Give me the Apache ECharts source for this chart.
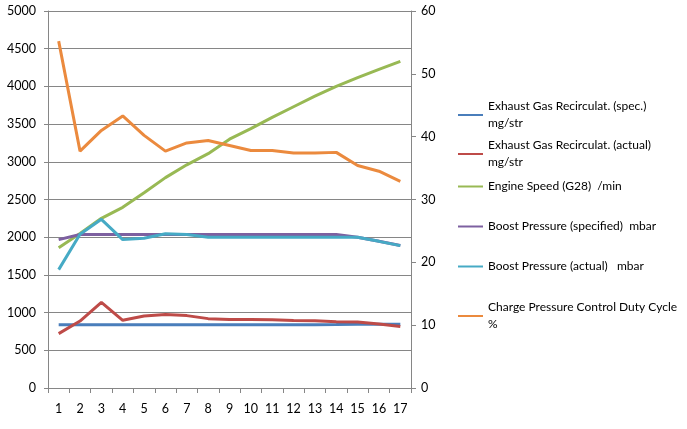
<!DOCTYPE html>
<html><head><meta charset="utf-8">
<script src="https://cdn.jsdelivr.net/npm/echarts@6/dist/echarts.min.js"></script>
<style>html,body{margin:0;padding:0;background:#fff}#c{width:687px;height:429px}</style>
</head><body><div id="c"></div>
<script>
const categories = ['1','2','3','4','5','6','7','8','9','10','11','12','13','14','15','16','17'];
const seriesNames = [
  'Exhaust Gas Recirculat. (spec.) mg/str',
  'Exhaust Gas Recirculat. (actual) mg/str',
  'Engine Speed (G28)  /min',
  'Boost Pressure (specified)  mbar',
  'Boost Pressure (actual)   mbar',
  'Charge Pressure Control Duty Cycle %'
];
const legendLabels = [
  'Exhaust Gas Recirculat. (spec.)\nmg/str',
  'Exhaust Gas Recirculat. (actual)\nmg/str',
  'Engine Speed (G28)  /min',
  'Boost Pressure (specified)  mbar',
  'Boost Pressure (actual)   mbar',
  'Charge Pressure Control Duty Cycle\n%'
];
const egrSpec   = [840,840,840,840,840,840,840,840,840,840,840,840,840,842,845,845,845];
const egrActual = [721,888,1136,898,955,975,960,920,910,910,905,895,893,880,875,850,815];
const engineSpeed = [1860,2050,2250,2396,2590,2790,2960,3108,3300,3440,3590,3730,3870,4000,4116,4226,4332];
const boostSpec   = [1968,2035,2035,2035,2035,2035,2035,2035,2035,2035,2035,2035,2035,2035,2000,1945,1890];
const boostActual = [1570,2040,2237,1968,1985,2045,2035,2000,2000,2000,2000,2000,2000,2000,2000,1945,1888];
const dutyCycle   = [55.2,37.7,41.0,43.3,40.2,37.7,39.0,39.4,38.6,37.8,37.8,37.4,37.4,37.5,35.4,34.5,32.9];
const leftTicks = {min:0, max:5000, interval:500};
const rightTicks = {min:0, max:60, interval:10};

const colors = ['#4A7EBB','#BE4B48','#98B954','#7D60A0','#46AAC5','#EB8A3E'];
const datasets = [egrSpec, egrActual, engineSpeed, boostSpec, boostActual, dutyCycle];
const axisIdx = [0,0,0,0,0,1];
const legendTops = [98,137,178,218,258,299];
const font = 'Lato, "Open Sans", sans-serif';

const chart = echarts.init(document.getElementById('c'));
chart.setOption({
  animation:false,
  backgroundColor:'#fff',
  color: colors,
  grid:{left:48,right:276,top:11,bottom:41,containLabel:false},
  xAxis:{type:'category',data:categories,boundaryGap:true,
    axisLine:{lineStyle:{color:'#868686',width:1}},
    axisTick:{show:true,length:5,interval:0,lineStyle:{color:'#868686'}},
    axisLabel:{color:'#000',fontSize:12.5,fontFamily:font,margin:14,interval:0}},
  yAxis:[
    {type:'value',min:leftTicks.min,max:leftTicks.max,interval:leftTicks.interval,position:'left',
     axisLine:{show:true,lineStyle:{color:'#868686'}},
     axisTick:{show:true,length:4,lineStyle:{color:'#868686'}},
     splitLine:{show:true,lineStyle:{color:'#868686',width:1}},
     axisLabel:{color:'#000',fontSize:12.5,fontFamily:font,margin:12,formatter:v=>String(v)}},
    {type:'value',min:rightTicks.min,max:rightTicks.max,interval:rightTicks.interval,position:'right',
     axisLine:{show:true,lineStyle:{color:'#868686'}},
     axisTick:{show:true,length:5,lineStyle:{color:'#868686'}},
     splitLine:{show:false},
     axisLabel:{color:'#000',fontSize:12.5,fontFamily:font,margin:10,formatter:v=>String(v)}}
  ],
  legend: seriesNames.map((n,i)=>({
    data:[n], left:458, top:legendTops[i], orient:'vertical', padding:0,
    icon:'rect', itemWidth:25, itemHeight:2, itemGap:0,
    formatter:()=>legendLabels[i],
    textStyle:{color:'#000',fontSize:12,fontFamily:font,lineHeight:17}
  })),
  series: seriesNames.map((n,i)=>({
    name:n, type:'line', data:datasets[i], yAxisIndex:axisIdx[i],
    symbol:'none', smooth:false, lineStyle:{width:3,color:colors[i]},
    itemStyle:{color:colors[i]}, z:2+i
  }))
});
</script></body></html>
